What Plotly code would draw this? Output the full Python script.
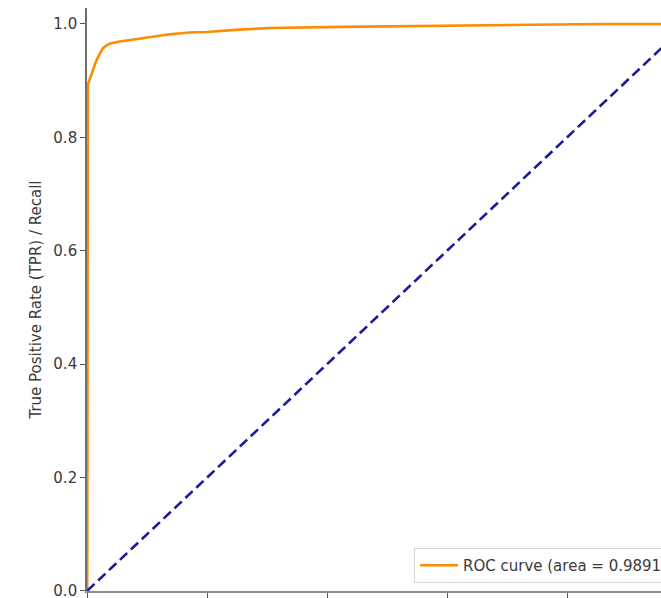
import plotly.graph_objects as go

# ROC curve points
fpr = [0.0, 0.0, 0.001, 0.001, 0.004, 0.007, 0.011, 0.015, 0.020, 0.026, 0.033, 0.040,
       0.054, 0.075, 0.099, 0.120, 0.138, 0.170, 0.199, 0.254, 0.304, 0.426, 0.599,
       0.660, 0.860, 1.0]
tpr = [0.0, 0.750, 0.752, 0.893, 0.902, 0.912, 0.925, 0.935, 0.946, 0.957, 0.963, 0.966,
       0.969, 0.972, 0.976, 0.979, 0.982, 0.985, 0.986, 0.990, 0.993, 0.995, 0.997,
       0.998, 1.0, 1.0]
diag_x = [0.0, 1.0]
diag_y = [0.0, 1.0]
roc_label = "ROC curve (area = 0.9891)"
y_title = "True Positive Rate (TPR) / Recall"
x_ticks = [0.0, 0.2, 0.4, 0.6, 0.8, 1.0]
y_ticks = [0.0, 0.2, 0.4, 0.6, 0.8, 1.0]

W, H = 661, 598
ml, mt, mb = 87, 8, 7
plot_w = W - ml
plot_h = H - mt - mb
x_max = plot_w / 600.0
y_max = plot_h / 567.0
eps = 0.0004

fig = go.Figure()
fig.add_trace(go.Scatter(x=fpr, y=tpr, mode="lines", name=roc_label,
                         line=dict(color="#ff8c00", width=2.6)))
fig.add_trace(go.Scatter(x=diag_x, y=diag_y, mode="lines", showlegend=False,
                         line=dict(color="#1c1c96", width=2.6, dash="10px,5px")))

fig.update_layout(
    width=W, height=H,
    margin=dict(l=ml, r=0, t=mt, b=mb, autoexpand=False),
    plot_bgcolor="white", paper_bgcolor="white",
    font=dict(family="DejaVu Sans", size=15, color="#3a3a3a"),
    legend=dict(x=(414 - ml) / plot_w, y=(591 - 583) / plot_h,
                xanchor="left", yanchor="bottom", itemwidth=38,
                bgcolor="white", bordercolor="#d6d6d6", borderwidth=1,
                font=dict(size=15, color="#3a3a3a")),
    xaxis=dict(range=[-eps, x_max], tickvals=x_ticks, showticklabels=False,
               ticks="outside", ticklen=5, tickwidth=1.2, tickcolor="#555555",
               showgrid=False, zeroline=False, showline=True,
               linecolor="#8c8c8c", linewidth=2),
    yaxis=dict(range=[-eps, y_max], tickvals=y_ticks, ticktext=[f"{v:.1f}" for v in y_ticks],
               ticklabeloverflow="allow",
               ticks="outside", ticklen=5, tickwidth=1.2, tickcolor="#555555",
               showgrid=False, zeroline=False, showline=True,
               linecolor="#6e6e6e", linewidth=1.6,
               title=dict(text=y_title, standoff=8,
                          font=dict(size=15, color="#3a3a3a"))),
)

fig.write_html("out.html")
